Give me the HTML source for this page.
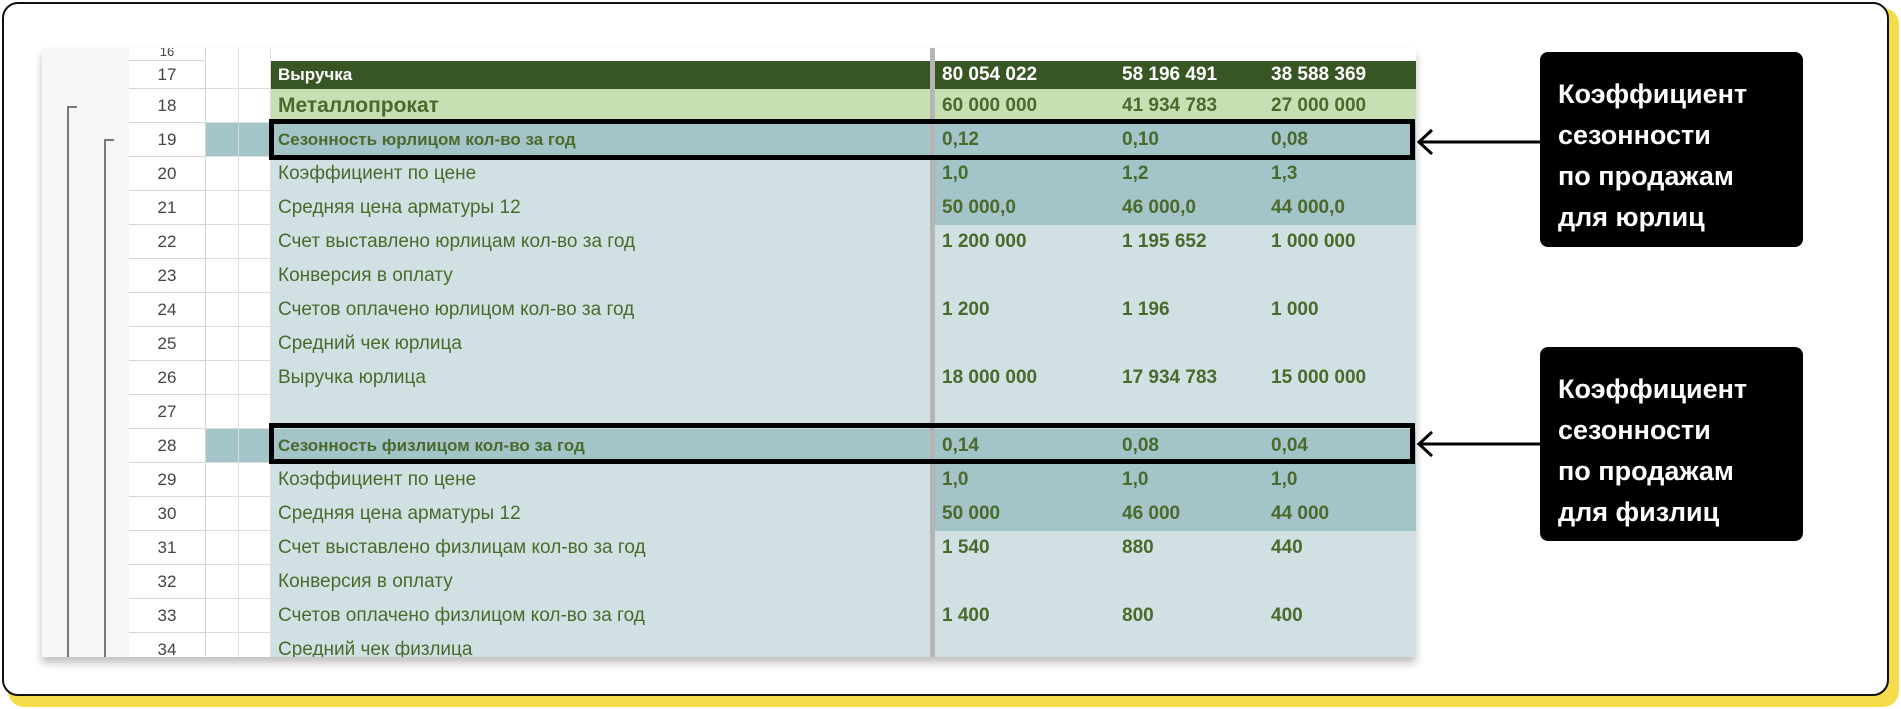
<!DOCTYPE html>
<html><head><meta charset="utf-8">
<style>
*{box-sizing:border-box;margin:0;padding:0}
body{width:1901px;height:709px;background:#fff;position:relative;overflow:hidden;font-family:"Liberation Sans Narrow","Liberation Sans",sans-serif}
.abs{position:absolute}
#shadowY{left:8px;top:8px;width:1891px;height:699px;background:#f5dc4b;border-radius:16px}
#card{left:2px;top:2px;width:1887px;height:694px;background:#fff;border:2px solid #111;border-radius:16px}
#sheet{left:42px;top:48px;width:1374px;height:609px;background:#f6f6f6;box-shadow:0 6px 8px rgba(0,0,0,0.25);overflow:hidden}
.cell{position:absolute;white-space:nowrap;font-size:19px;color:#4a6a2c;line-height:34px;padding-left:7px;overflow:hidden}
.num{text-align:center;padding-left:0;color:#444;background:#fff;border-bottom:1px solid #d6d6d6;border-right:1px solid #d6d6d6;font-family:"Liberation Sans",sans-serif;font-size:17px}
.callout{background:#000;color:#fff;border-radius:8px;font-family:"Liberation Sans",sans-serif;font-weight:bold;font-size:27px;line-height:41px;padding:22px 0 0 18px}
</style></head><body>
<div id="shadowY" class="abs"></div>
<div id="card" class="abs"></div>
<div id="sheet" class="abs"></div>
<div class="abs" style="left:67px;top:106px;width:10px;height:551px;border-left:2px solid #777;border-top:2px solid #777"></div>
<div class="abs" style="left:104px;top:139px;width:10px;height:518px;border-left:2px solid #777;border-top:2px solid #777"></div>
<div class="abs" style="left:269px;top:119px;width:1146px;height:41px;border:5px solid #000"></div>
<div class="abs" style="left:269px;top:423px;width:1146px;height:41px;border:5px solid #000"></div>
<svg class="abs" style="left:1410px;top:120px" width="135" height="345">
<g stroke="#000" stroke-width="3" fill="none">
<path d="M130 22 H10 M22 10 L9 22 L22 34"/>
<path d="M130 324 H10 M22 312 L9 324 L22 336"/>
</g></svg>
<div class="abs callout" style="left:1540px;top:52px;width:263px;height:195px">Коэффициент<br>сезонности<br>по продажам<br>для юрлиц</div>
<div class="abs callout" style="left:1540px;top:347px;width:263px;height:194px">Коэффициент<br>сезонности<br>по продажам<br>для физлиц</div>
<script>
const rowNums=[17,18,19,20,21,22,23,24,25,26,27,28,29,30,31,32,33,34];
const labels=["Выручка","Металлопрокат","Сезонность юрлицом кол-во за год","Коэффициент по цене","Средняя цена арматуры 12","Счет выставлено юрлицам кол-во за год","Конверсия в оплату","Счетов оплачено юрлицом кол-во за год","Средний чек юрлица","Выручка юрлица","","Сезонность физлицом кол-во за год","Коэффициент по цене","Средняя цена арматуры 12","Счет выставлено физлицам кол-во за год","Конверсия в оплату","Счетов оплачено физлицом кол-во за год","Средний чек физлица"];
const col1=["80 054 022","60 000 000","0,12","1,0","50 000,0","1 200 000","","1 200","","18 000 000","","0,14","1,0","50 000","1 540","","1 400",""];
const col2=["58 196 491","41 934 783","0,10","1,2","46 000,0","1 195 652","","1 196","","17 934 783","","0,08","1,0","46 000","880","","800",""];
const col3=["38 588 369","27 000 000","0,08","1,3","44 000,0","1 000 000","","1 000","","15 000 000","","0,04","1,0","44 000","440","","400",""];
const sheet=document.getElementById('sheet');
function mk(x,y,w,h,cls,txt,style){const d=document.createElement('div');d.className='cell '+(cls||'');d.style.left=x+'px';d.style.top=y+'px';d.style.width=w+'px';d.style.height=h+'px';d.style.lineHeight=h+'px';if(style)d.style.cssText+=style;d.textContent=txt;sheet.appendChild(d);return d;}
const OX=42,OY=48;
// header partial row 16
let e=mk(129-OX,0,77,13,'num','16','font-size:13px;line-height:8px');


e=mk(206-OX,0,33,13,'','','background:#fff;border-right:1px solid #ddd');


e=mk(239-OX,0,32,13,'','','background:#fff;border-right:1px solid #ddd');


e=mk(271-OX,0,1145,13,'','','background:#fff');


const light='#d1e1e3',dark='#a3c4c8';
let y=61;
for(let i=0;i<rowNums.length;i++){
  const h=i===0?28:34;
  const r=rowNums[i];
  let bgL,bgV,narrow='#fff',color='#4a6a2c',bold=false,size=19;
  if(r===17){bgL=bgV='#375623';color='#fff';bold=true;size=17;}
  else if(r===18){bgL=bgV='#c6e0b4';bold=true;size=21;}
  else if(r===19||r===28){bgL=bgV=dark;narrow=dark;bold=true;size=17;}
  else if(r===20||r===21||r===29||r===30){bgL=light;bgV=dark;}
  else{bgL=bgV=light;}
  e=mk(129-OX,y-OY,77,h,'num',String(r));
  
  
  e=mk(206-OX,y-OY,33,h,'','','border-bottom:1px solid #ddd;border-right:1px solid #ddd;background:'+narrow);
  
  
  e=mk(239-OX,y-OY,32,h,'','','border-bottom:1px solid #ddd;border-right:1px solid #ddd;background:'+narrow);
  
  
  const st='background:'+(0)+';color:'+color+';font-weight:'+(bold?'bold':'normal')+';font-size:'+size+'px;';
  e=mk(271-OX,y-OY,660,h,'',labels[i],st.replace('background:0','background:'+bgL));
  
  
  const vs=(r===18?'font-size:19px;':'')+'font-weight:bold;color:'+color+';background:'+bgV+';';
  e=mk(935-OX,y-OY,180,h,'',col1[i],vs);
  
  
  e=mk(1115-OX,y-OY,149,h,'',col2[i],vs);
  
  
  e=mk(1264-OX,y-OY,152,h,'',col3[i],vs);
  
  
  y+=h;
}
e=mk(930-OX,0,5,609,'','','background:#b5b5b5;padding:0');


</script>
</body></html>
